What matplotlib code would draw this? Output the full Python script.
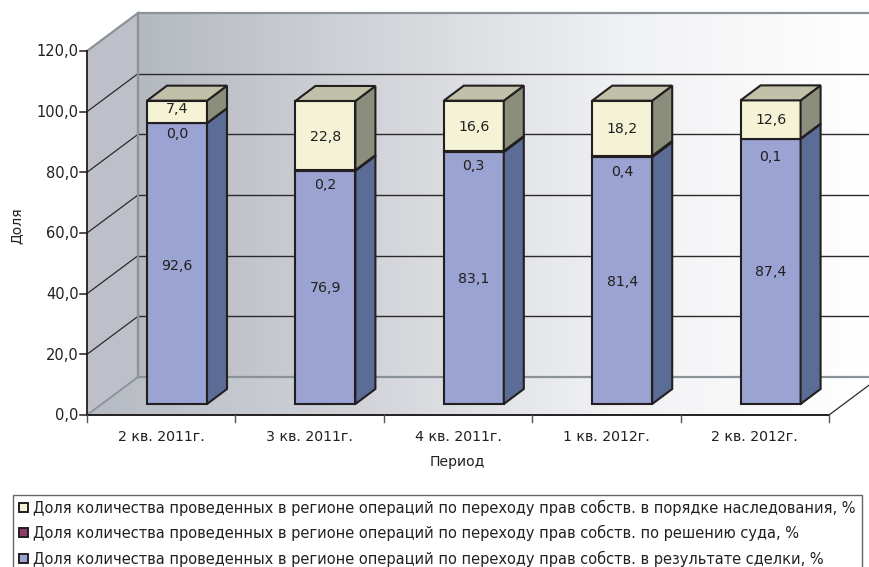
#!/usr/bin/env python3
import numpy as np
import matplotlib.pyplot as plt
from matplotlib.colors import LinearSegmentedColormap
from matplotlib.patches import Polygon, Rectangle

plt.rcParams["font.family"] = ["DejaVu Sans"]

periods = ["2 кв. 2011г.", "3 кв. 2011г.", "4 кв. 2011г.", "1 кв. 2012г.", "2 кв. 2012г."]
deal = [92.6, 76.9, 83.1, 81.4, 87.4]
court = [0.0, 0.2, 0.3, 0.4, 0.1]
inherit = [7.4, 22.8, 16.6, 18.2, 12.6]
y_ticks = [0, 20, 40, 60, 80, 100, 120]
legend_labels = [
    "Доля количества проведенных в регионе операций по переходу прав собств. в порядке наследования, %",
    "Доля количества проведенных в регионе операций по переходу прав собств. по решению суда, %",
    "Доля количества проведенных в регионе операций по переходу прав собств. в результате сделки, %",
]

# label nudges in px
deal_nudge = [2, 1, 1, 1, 1]
court_nudge = [11, 15, 15, 16, 18]
inherit_nudge = [-3, 1, 1, 1, 1]

TEXT = "#231f20"
X0, Y0 = 87, 415        # front left corner of floor
X1 = 829                # front right corner
DX, DY = 51, -38        # wall depth
SCALE = (415 - 51) / 120
BAR_W = 60
BAR_DX, BAR_DY = 20, -15
CAT_W = (X1 - X0) / len(periods)


def vy(v, y_base=Y0):
    return y_base - v * SCALE


fig = plt.figure(figsize=(8.69, 5.67), dpi=100)
ax = fig.add_axes([0, 0, 1, 1])

cmap_wall = LinearSegmentedColormap.from_list("wall", ["#b4b9c0", "#d3d5da", "#f0f1f3", "#ffffff"])
cmap_floor = LinearSegmentedColormap.from_list("floor", ["#b6bac2", "#d0d2d8", "#f0f1f3", "#ffffff"])
grad = np.linspace(0, 1, 256).reshape(1, -1)

wall_top, wall_bot = Y0 + DY - 120 * SCALE, Y0 + DY
back = ax.imshow(grad, cmap=cmap_wall, extent=[X0 + DX, 869, wall_bot, wall_top], aspect="auto", zorder=1)
back.set_clip_path(Rectangle((X0 + DX, wall_top), 869 - X0 - DX, wall_bot - wall_top, transform=ax.transData))
floor = ax.imshow(grad, cmap=cmap_floor, extent=[X0, 869, Y0, wall_bot], aspect="auto", zorder=1)
floor.set_clip_path(Polygon([(X0, Y0), (X1, Y0), (X1 + DX, wall_bot), (X0 + DX, wall_bot)], transform=ax.transData))

# left wall
ax.add_patch(Polygon([(X0, vy(120)), (X0 + DX, wall_top), (X0 + DX, wall_bot), (X0, Y0)],
                     fc="#bdc0c9", ec="none", zorder=1.5))

# gridlines on the walls
for v in y_ticks[1:-1]:
    yb = vy(v, wall_bot)
    ax.plot([X0 + DX, 869], [yb, yb], color="#2b2b2b", lw=1.0, zorder=2)
    ax.plot([X0, X0 + DX], [vy(v), yb], color="#2b2b2b", lw=0.9, zorder=2)
ax.plot([X0 + DX, 869], [wall_top, wall_top], color="#8b9298", lw=1.6, zorder=2)
ax.plot([X0 + DX, 869], [wall_bot, wall_bot], color="#8b9298", lw=1.6, zorder=2)
ax.plot([X0 + DX, X0 + DX], [wall_top, wall_bot], color="#8b9298", lw=1.6, zorder=2)
ax.plot([X0, X0 + DX], [vy(120), wall_top], color="#8b9298", lw=1.6, zorder=2)
ax.plot([X0, X0 + DX], [Y0, wall_bot], color="#8b9298", lw=1.3, zorder=2)
ax.plot([X1, X1 + DX], [Y0, wall_bot], color="#2b2b2b", lw=0.9, zorder=2)

# axes
ax.plot([X0, X0], [vy(120), Y0], color=TEXT, lw=1.3, zorder=6)
ax.plot([X0, X1], [Y0, Y0], color=TEXT, lw=1.4, zorder=6)
for v in y_ticks:
    ax.plot([X0 - 7, X0], [vy(v), vy(v)], color=TEXT, lw=1.1, zorder=6)
    ax.text(X0 - 8.5, vy(v) + 1, f"{v:.1f}".replace(".", ","), ha="right", va="center",
            fontsize=10.5, color=TEXT, zorder=7)
for i in range(len(periods) + 1):
    x = X0 + i * CAT_W
    ax.plot([x, x], [Y0, Y0 + 7], color="#555555", lw=1.0, zorder=6)
for i, p in enumerate(periods):
    ax.text(X0 + (i + 0.5) * CAT_W, 437, p, ha="center", va="center", fontsize=10.2, color=TEXT)
ax.text(457, 462, "Период", ha="center", va="center", fontsize=10.1, color=TEXT)
ax.text(16, 226, "Доля", ha="center", va="center", rotation=90, fontsize=10, color=TEXT)


def box(xl, v0, v1, front, side, top=None):
    base = Y0 - 11
    ya, yb = vy(v0, base), vy(v1, base)
    xr = xl + BAR_W
    style = dict(ec=TEXT, lw=1.5, joinstyle="miter", zorder=4)
    ax.add_patch(Polygon([(xl, yb), (xr, yb), (xr, ya), (xl, ya)], fc=front, **style))
    ax.add_patch(Polygon([(xr, yb), (xr + BAR_DX, yb + BAR_DY), (xr + BAR_DX, ya + BAR_DY), (xr, ya)], fc=side, **style))
    if top is not None:
        ax.add_patch(Polygon([(xl, yb), (xl + BAR_DX, yb + BAR_DY), (xr + BAR_DX, yb + BAR_DY), (xr, yb)], fc=top, **style))
    return ya, yb


for i in range(len(periods)):
    xl = X0 + i * CAT_W + 60
    s1 = deal[i]
    s2 = s1 + court[i]
    s3 = s2 + inherit[i]
    ya, yb = box(xl, 0, s1, "#9aa3d1", "#5b6c96")
    cx = xl + BAR_W / 2
    ax.text(cx, (ya + yb) / 2 + deal_nudge[i], f"{deal[i]:.1f}".replace(".", ","), ha="center", va="center",
            fontsize=10.2, color=TEXT, zorder=5)
    ya, yb = box(xl, s1, s2, "#8c3b6b", "#5e2a4a")
    ax.text(cx, (ya + yb) / 2 + court_nudge[i], f"{court[i]:.1f}".replace(".", ","), ha="center", va="center",
            fontsize=10.2, color=TEXT, zorder=5)
    ya, yb = box(xl, s2, s3, "#f4f3d6", "#8a8e7b", "#c1c0a9")
    ax.text(cx, (ya + yb) / 2 + inherit_nudge[i], f"{inherit[i]:.1f}".replace(".", ","), ha="center", va="center",
            fontsize=10.2, color=TEXT, zorder=5)

# legend
ax.add_patch(Rectangle((13, 495), 849, 80, fc="white", ec="#666666", lw=1.0, zorder=3))
for label, color, y in zip(legend_labels, ["#f4f3d6", "#8c3b6b", "#9aa3d1"], [507.5, 532.5, 558.5]):
    ax.add_patch(Rectangle((18.5, y - 5), 9, 9, fc=color, ec=TEXT, lw=1.4, zorder=4))
    ax.text(33, y, label, ha="left", va="center", fontsize=10.55, color=TEXT, zorder=4)

ax.set_xlim(0, 869)
ax.set_ylim(567, 0)
ax.axis("off")

plt.savefig("out.png", dpi=100)
